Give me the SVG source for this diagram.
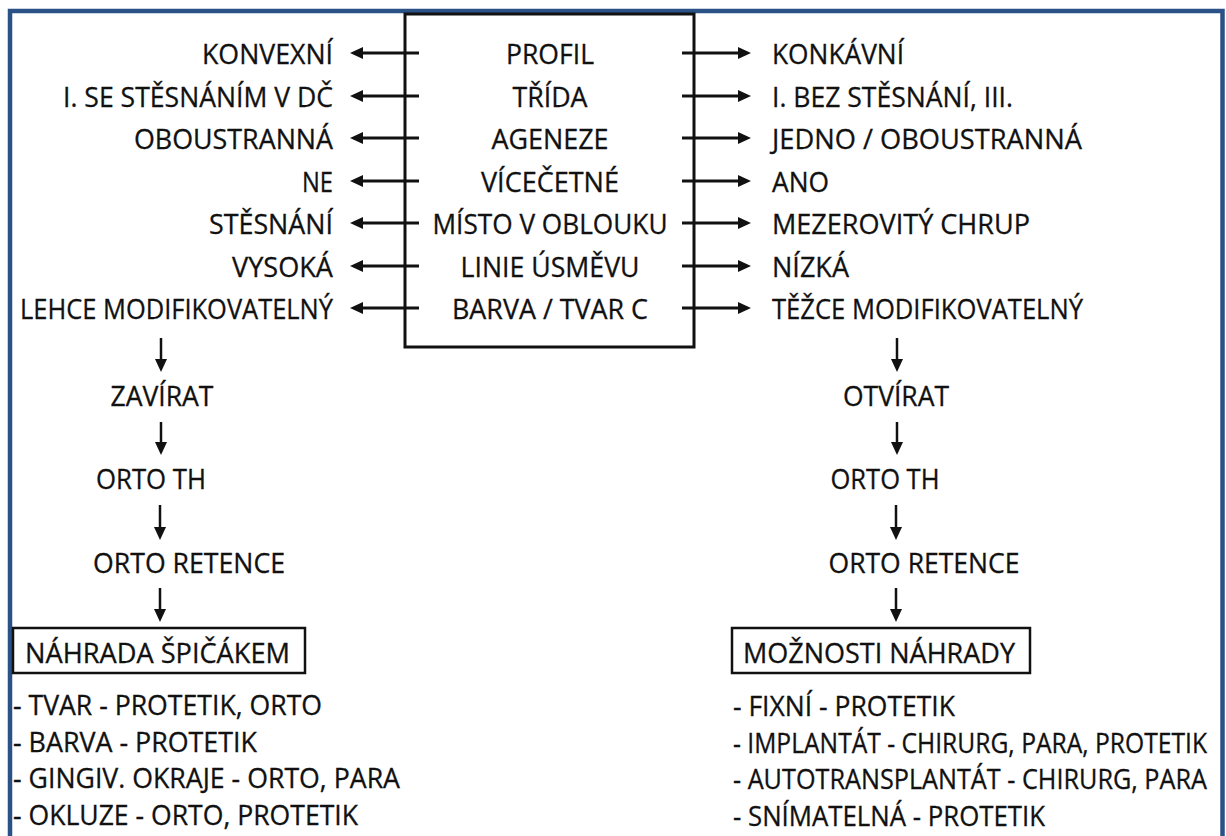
<svg xmlns="http://www.w3.org/2000/svg" width="1226" height="836" viewBox="0 0 1226 836">
<style>
text{font-family:"Open Sans","Noto Sans","DejaVu Sans",sans-serif;font-size:27px;fill:#111;stroke:#111;stroke-width:0.3}
.r{text-anchor:end}
.c{text-anchor:middle}
.ln{stroke:#111;stroke-width:3;fill:none}
.vl{stroke:#111;stroke-width:2.5;fill:none}
.box{fill:none;stroke:#111;stroke-width:3}
.sbox{fill:none;stroke:#111;stroke-width:2.5}
</style>
<defs>
<marker id="ah" viewBox="0 0 13 12" refX="3" refY="6" markerWidth="13" markerHeight="12" markerUnits="userSpaceOnUse" orient="auto">
<path d="M0,0 L13,6 L0,12 z" fill="#111"/>
</marker>
</defs>
<rect width="1226" height="836" fill="#fff"/>
<rect x="10" y="11" width="1212.5" height="900" fill="none" stroke="#2b5287" stroke-width="4.5"/>

<g id="center">
<rect class="box" x="405" y="14" width="289" height="333"/>
<text class="c" x="550" y="64" textLength="88" lengthAdjust="spacingAndGlyphs">PROFIL</text>
<text class="c" x="550" y="107" textLength="75" lengthAdjust="spacingAndGlyphs">TŘÍDA</text>
<text class="c" x="550" y="149" textLength="117" lengthAdjust="spacingAndGlyphs">AGENEZE</text>
<text class="c" x="550" y="192" textLength="138" lengthAdjust="spacingAndGlyphs">VÍCEČETNÉ</text>
<text class="c" x="550" y="234" textLength="235" lengthAdjust="spacingAndGlyphs">MÍSTO V OBLOUKU</text>
<text class="c" x="550" y="277" textLength="179" lengthAdjust="spacingAndGlyphs">LINIE ÚSMĚVU</text>
<text class="c" x="550" y="319" textLength="196" lengthAdjust="spacingAndGlyphs">BARVA / TVAR C</text>
</g>

<g id="left-options">
<text class="r" x="333" y="64" textLength="131" lengthAdjust="spacingAndGlyphs">KONVEXNÍ</text>
<text class="r" x="333" y="107" textLength="270" lengthAdjust="spacingAndGlyphs">I. SE STĚSNÁNÍM V DČ</text>
<text class="r" x="333" y="149" textLength="199" lengthAdjust="spacingAndGlyphs">OBOUSTRANNÁ</text>
<text class="r" x="333" y="192" textLength="31" lengthAdjust="spacingAndGlyphs">NE</text>
<text class="r" x="333" y="234" textLength="124" lengthAdjust="spacingAndGlyphs">STĚSNÁNÍ</text>
<text class="r" x="333" y="277" textLength="101" lengthAdjust="spacingAndGlyphs">VYSOKÁ</text>
<text class="r" x="333" y="319" textLength="313" lengthAdjust="spacingAndGlyphs">LEHCE MODIFIKOVATELNÝ</text>
</g>

<g id="right-options">
<text x="772" y="64" textLength="132" lengthAdjust="spacingAndGlyphs">KONKÁVNÍ</text>
<text x="772" y="107" textLength="241" lengthAdjust="spacingAndGlyphs">I. BEZ STĚSNÁNÍ, III.</text>
<text x="772" y="149" textLength="310" lengthAdjust="spacingAndGlyphs">JEDNO / OBOUSTRANNÁ</text>
<text x="772" y="192" textLength="57" lengthAdjust="spacingAndGlyphs">ANO</text>
<text x="772" y="234" textLength="258" lengthAdjust="spacingAndGlyphs">MEZEROVITÝ CHRUP</text>
<text x="772" y="277" textLength="77" lengthAdjust="spacingAndGlyphs">NÍZKÁ</text>
<text x="772" y="319" textLength="311" lengthAdjust="spacingAndGlyphs">TĚŽCE MODIFIKOVATELNÝ</text>
</g>

<g id="left-flow">
<text class="c" x="162" y="406" textLength="103" lengthAdjust="spacingAndGlyphs">ZAVÍRAT</text>
<text class="c" x="151" y="489" textLength="110" lengthAdjust="spacingAndGlyphs">ORTO TH</text>
<text class="c" x="189" y="573" textLength="192" lengthAdjust="spacingAndGlyphs">ORTO RETENCE</text>
</g>

<g id="right-flow">
<text class="c" x="896" y="406" textLength="106" lengthAdjust="spacingAndGlyphs">OTVÍRAT</text>
<text class="c" x="885" y="489" textLength="109" lengthAdjust="spacingAndGlyphs">ORTO TH</text>
<text class="c" x="924" y="573" textLength="191" lengthAdjust="spacingAndGlyphs">ORTO RETENCE</text>
</g>

<g id="nahrada-spicakem">
<rect class="sbox" x="13" y="628" width="292" height="45"/>
<text x="25" y="663" textLength="265" lengthAdjust="spacingAndGlyphs">NÁHRADA ŠPIČÁKEM</text>
</g>
<g id="left-list">
<text x="13" y="715" textLength="309" lengthAdjust="spacingAndGlyphs">- TVAR - PROTETIK, ORTO</text>
<text x="13" y="752" textLength="244" lengthAdjust="spacingAndGlyphs">- BARVA - PROTETIK</text>
<text x="13" y="788" textLength="387" lengthAdjust="spacingAndGlyphs">- GINGIV. OKRAJE - ORTO, PARA</text>
<text x="13" y="825" textLength="345" lengthAdjust="spacingAndGlyphs">- OKLUZE - ORTO, PROTETIK</text>
</g>

<g id="moznosti-nahrady">
<rect class="sbox" x="732" y="628" width="298" height="45"/>
<text x="743" y="663" textLength="272" lengthAdjust="spacingAndGlyphs">MOŽNOSTI NÁHRADY</text>
</g>
<g id="right-list">
<text x="733" y="716" textLength="222" lengthAdjust="spacingAndGlyphs">- FIXNÍ - PROTETIK</text>
<text x="733" y="753" textLength="474" lengthAdjust="spacingAndGlyphs">- IMPLANTÁT - CHIRURG, PARA, PROTETIK</text>
<text x="733" y="789" textLength="474" lengthAdjust="spacingAndGlyphs">- AUTOTRANSPLANTÁT - CHIRURG, PARA</text>
<text x="733" y="826" textLength="312" lengthAdjust="spacingAndGlyphs">- SNÍMATELNÁ - PROTETIK</text>
</g>

<g id="connectors">
<line class="ln" x1="419" y1="53" x2="360" y2="53" marker-end="url(#ah)"/>
<line class="ln" x1="419" y1="96" x2="360" y2="96" marker-end="url(#ah)"/>
<line class="ln" x1="419" y1="138" x2="360" y2="138" marker-end="url(#ah)"/>
<line class="ln" x1="419" y1="181" x2="360" y2="181" marker-end="url(#ah)"/>
<line class="ln" x1="419" y1="223" x2="360" y2="223" marker-end="url(#ah)"/>
<line class="ln" x1="419" y1="266" x2="360" y2="266" marker-end="url(#ah)"/>
<line class="ln" x1="419" y1="308" x2="360" y2="308" marker-end="url(#ah)"/>
<line class="ln" x1="682" y1="53" x2="741" y2="53" marker-end="url(#ah)"/>
<line class="ln" x1="682" y1="96" x2="741" y2="96" marker-end="url(#ah)"/>
<line class="ln" x1="682" y1="138" x2="741" y2="138" marker-end="url(#ah)"/>
<line class="ln" x1="682" y1="181" x2="741" y2="181" marker-end="url(#ah)"/>
<line class="ln" x1="682" y1="223" x2="741" y2="223" marker-end="url(#ah)"/>
<line class="ln" x1="682" y1="266" x2="741" y2="266" marker-end="url(#ah)"/>
<line class="ln" x1="682" y1="308" x2="741" y2="308" marker-end="url(#ah)"/>
<line class="vl" x1="161" y1="338" x2="161" y2="362" marker-end="url(#ah)"/>
<line class="vl" x1="161" y1="422" x2="161" y2="445" marker-end="url(#ah)"/>
<line class="vl" x1="160" y1="505" x2="160" y2="530" marker-end="url(#ah)"/>
<line class="vl" x1="160" y1="588" x2="160" y2="612" marker-end="url(#ah)"/>
<line class="vl" x1="897" y1="338" x2="897" y2="362" marker-end="url(#ah)"/>
<line class="vl" x1="897" y1="422" x2="897" y2="445" marker-end="url(#ah)"/>
<line class="vl" x1="896" y1="505" x2="896" y2="530" marker-end="url(#ah)"/>
<line class="vl" x1="896" y1="588" x2="896" y2="612" marker-end="url(#ah)"/>
</g>
</svg>
